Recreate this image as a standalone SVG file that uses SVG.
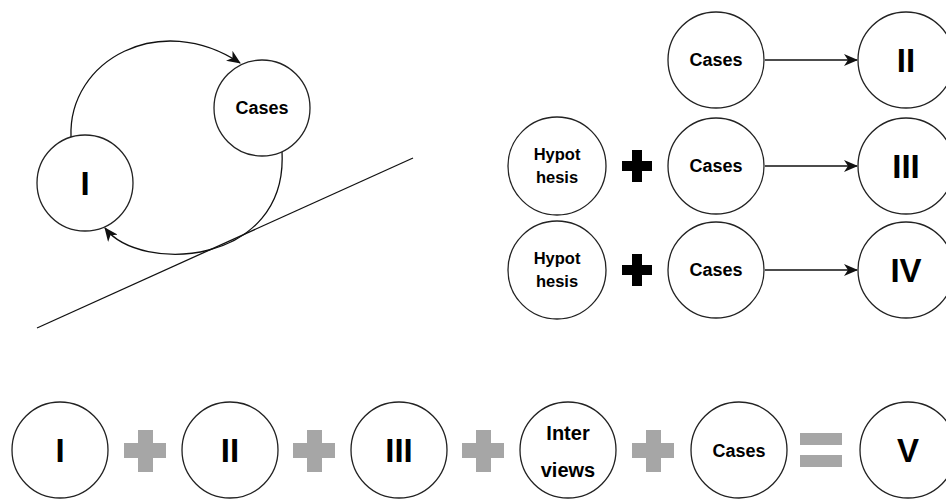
<svg xmlns="http://www.w3.org/2000/svg" width="946" height="500" viewBox="0 0 946 500">
  <style>
    .node circle { fill: #fff; stroke: #222; stroke-width: 1.3; }
    .lbl { font-family: "Liberation Sans", Arial, sans-serif; font-weight: bold; fill: #000; text-anchor: middle; }
    .num { font-size: 33px; }
    .cas { font-size: 18px; }
    .hyp { font-size: 16.5px; }
    .int { font-size: 20px; }
    .edge { fill: none; stroke: #111; stroke-width: 1.3; }
    .op-black { fill: #000; }
    .op-gray { fill: #a6a6a6; }
  </style>
  <defs>
    <marker id="arrow" markerUnits="userSpaceOnUse" markerWidth="14" markerHeight="12" refX="13" refY="6" orient="auto">
      <path d="M0,0 L14,6 L0,12 L4,6 Z" fill="#111"/>
    </marker>
  </defs>
  <rect width="946" height="500" fill="#fff"/>

  <!-- connectors -->
  <g id="connectors">
    <path class="edge" d="M71,137 C68,60 160,10 240,63" marker-end="url(#arrow)"/>
    <path class="edge" d="M282,152 C288,266 140,274 105,228" marker-end="url(#arrow)"/>
    <line class="edge" x1="37" y1="328" x2="413" y2="158"/>
    <line class="edge" x1="765" y1="60" x2="857" y2="60" marker-end="url(#arrow)"/>
    <line class="edge" x1="765" y1="166" x2="857" y2="166" marker-end="url(#arrow)"/>
    <line class="edge" x1="765" y1="270" x2="857" y2="270" marker-end="url(#arrow)"/>
  </g>

  <!-- cycle: I and Cases -->
  <g id="node-cycle-i" class="node">
    <circle cx="85" cy="183" r="48"/>
    <text class="lbl num" x="85" y="195">I</text>
  </g>
  <g id="node-cycle-cases" class="node">
    <circle cx="262" cy="108" r="48"/>
    <text class="lbl cas" x="262" y="114">Cases</text>
  </g>

  <!-- right block -->
  <g id="node-r1-cases" class="node">
    <circle cx="716" cy="60" r="48"/>
    <text class="lbl cas" x="716" y="66">Cases</text>
  </g>
  <g id="node-r1-ii" class="node">
    <circle cx="906" cy="60" r="48"/>
    <text class="lbl num" x="906" y="72">II</text>
  </g>
  <g id="node-r2-hyp" class="node">
    <circle cx="557" cy="166" r="49"/>
    <text class="lbl hyp" x="557" y="160">Hypot</text>
    <text class="lbl hyp" x="557" y="183">hesis</text>
  </g>
  <g id="node-r2-cases" class="node">
    <circle cx="716" cy="166" r="48"/>
    <text class="lbl cas" x="716" y="172">Cases</text>
  </g>
  <g id="node-r2-iii" class="node">
    <circle cx="906" cy="166" r="48"/>
    <text class="lbl num" x="906" y="178">III</text>
  </g>
  <g id="node-r3-hyp" class="node">
    <circle cx="557" cy="270" r="49"/>
    <text class="lbl hyp" x="557" y="264">Hypot</text>
    <text class="lbl hyp" x="557" y="287">hesis</text>
  </g>
  <g id="node-r3-cases" class="node">
    <circle cx="716" cy="270" r="48"/>
    <text class="lbl cas" x="716" y="276">Cases</text>
  </g>
  <g id="node-r3-iv" class="node">
    <circle cx="906" cy="270" r="48"/>
    <text class="lbl num" x="906" y="282">IV</text>
  </g>

  <!-- black plus operators -->
  <g id="op-plus-r2">
    <path class="op-black" d="M632,150 h10 v11 h10 v10 h-10 v11 h-10 v-11 h-10 v-10 h10 z"/>
  </g>
  <g id="op-plus-r3">
    <path class="op-black" d="M632,254 h10 v11 h10 v10 h-10 v11 h-10 v-11 h-10 v-10 h10 z"/>
  </g>

  <!-- bottom equation -->
  <g id="node-eq-i" class="node">
    <circle cx="60" cy="450" r="48"/>
    <text class="lbl num" x="60" y="462">I</text>
  </g>
  <g id="node-eq-ii" class="node">
    <circle cx="230" cy="450" r="48"/>
    <text class="lbl num" x="230" y="462">II</text>
  </g>
  <g id="node-eq-iii" class="node">
    <circle cx="399" cy="450" r="48"/>
    <text class="lbl num" x="399" y="462">III</text>
  </g>
  <g id="node-eq-interviews" class="node">
    <circle cx="568" cy="450" r="48"/>
    <text class="lbl int" x="568" y="440">Inter</text>
    <text class="lbl int" x="568" y="477">views</text>
  </g>
  <g id="node-eq-cases" class="node">
    <circle cx="739" cy="450" r="48"/>
    <text class="lbl cas" x="739" y="457">Cases</text>
  </g>
  <g id="node-eq-v" class="node">
    <circle cx="908" cy="450" r="48"/>
    <text class="lbl num" x="908" y="462">V</text>
  </g>

  <!-- gray operators -->
  <g id="op-gray-plus-1"><path class="op-gray" d="M138,430 h15 v13 h13 v15 h-13 v14 h-15 v-14 h-14 v-15 h14 z"/></g>
  <g id="op-gray-plus-2"><path class="op-gray" d="M307,430 h15 v13 h13 v15 h-13 v14 h-15 v-14 h-14 v-15 h14 z"/></g>
  <g id="op-gray-plus-3"><path class="op-gray" d="M476,430 h15 v13 h13 v15 h-13 v14 h-15 v-14 h-14 v-15 h14 z"/></g>
  <g id="op-gray-plus-4"><path class="op-gray" d="M646,430 h15 v13 h13 v15 h-13 v14 h-15 v-14 h-14 v-15 h14 z"/></g>
  <g id="op-gray-equals">
    <rect class="op-gray" x="800" y="433" width="42" height="12"/>
    <rect class="op-gray" x="800" y="455" width="42" height="12"/>
  </g>
</svg>
